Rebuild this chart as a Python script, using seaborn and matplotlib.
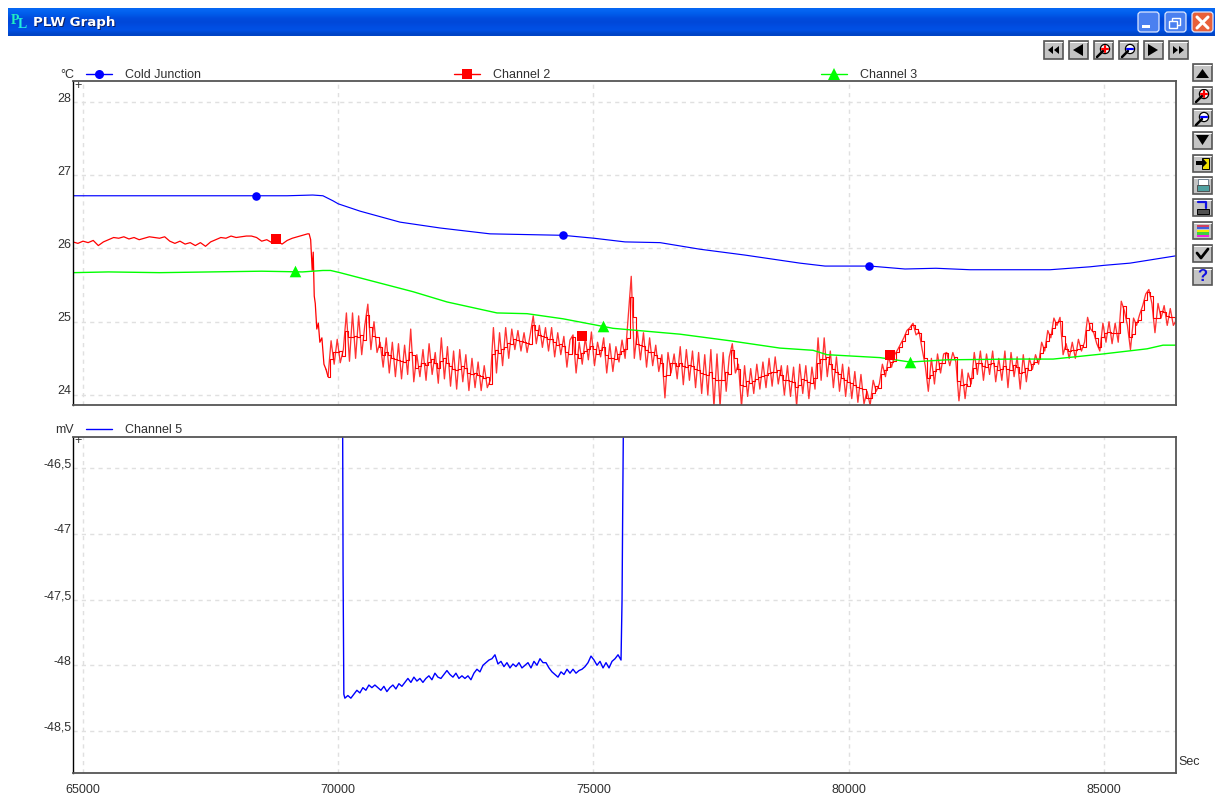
import numpy as np
import pandas as pd
import matplotlib
matplotlib.use("Agg")
import matplotlib.pyplot as plt
from matplotlib.patches import Rectangle, FancyBboxPatch, Polygon, Circle
from matplotlib.transforms import ScaledTranslation
import seaborn as sns

# x axis ticks
x_ticks = [65000, 70000, 75000, 80000, 85000]
temp_ticks = [24, 25, 26, 27, 28]
mv_ticks = [-48.5, -48, -47.5, -47, -46.5]
mv_labels = ["-48,5", "-48", "-47,5", "-47", "-46,5"]

# Cold Junction
cj_t = [64800, 66000, 67500, 69000, 69500, 69700, 69900, 70000, 70427, 71210, 71994, 72973, 74404,
        75011, 75618, 76304, 77087, 77969, 79046, 79536, 80417, 81103, 81710, 82376, 83356, 83944,
        84728, 85002, 85511, 86412]
cj_v = [26.72, 26.72, 26.72, 26.72, 26.73, 26.72, 26.65, 26.61, 26.51, 26.36, 26.28, 26.20, 26.18,
        26.14, 26.09, 26.08, 25.99, 25.91, 25.80, 25.76, 25.76, 25.72, 25.73, 25.71, 25.71, 25.71,
        25.75, 25.77, 25.80, 25.90]
cj_mark_t = [68390, 74404, 80400]
cj_mark_v = [26.71, 26.18, 25.76]

# Channel 2, flat part every 100 s from 64800
ch2_flat = [26.09, 26.07, 26.10, 26.08, 26.11, 26.04, 26.09, 26.12, 26.15, 26.14,
            26.16, 26.13, 26.15, 26.12, 26.14, 26.16, 26.15, 26.14, 26.16, 26.10,
            26.07, 26.10, 26.06, 26.08, 26.04, 26.08, 26.03, 26.09, 26.12, 26.15,
            26.14, 26.17, 26.15, 26.16, 26.17, 26.17, 26.15, 26.10, 26.12, 26.08,
            26.10, 26.06, 26.11, 26.14, 26.16, 26.18, 26.20]
# the drop
ch2_drop_t = [69430, 69460, 69490, 69510, 69530, 69550, 69580, 69610, 69640, 69680, 69720, 69760]
ch2_drop_v = [26.20, 26.12, 25.70, 25.95, 25.35, 25.25, 24.90, 24.98, 24.72, 24.78, 24.42, 24.35]
# noisy part, every 60 s from 69800
ch2_noisy = [24.25, 24.74, 24.42, 24.76, 24.44, 24.62, 25.12, 24.46, 25.12, 24.50,
             25.08, 24.55, 24.95, 25.24, 24.62, 25.00, 24.58, 24.72, 24.38, 24.78,
             24.30, 24.72, 24.25, 24.70, 24.22, 24.68, 24.28, 24.90, 24.18, 24.55,
             24.25, 24.62, 24.20, 24.70, 24.28, 24.58, 24.16, 24.78, 24.22, 24.66,
             24.12, 24.60, 24.08, 24.62, 24.18, 24.55, 24.06, 24.50, 24.10, 24.45,
             24.06, 24.40, 24.10, 24.20, 24.92, 24.30, 24.85, 24.40, 24.92, 24.50,
             24.90, 24.62, 24.88, 24.60, 24.85, 24.58, 24.82, 25.08, 24.70, 24.95,
             24.65, 24.92, 24.60, 24.92, 24.52, 24.85, 24.55, 24.80, 24.38, 24.75,
             24.82, 24.30, 24.72, 24.42, 24.78, 24.48, 24.86, 24.40, 24.72, 24.52,
             24.78, 24.30, 24.70, 24.32, 24.66, 24.45, 24.75, 24.50, 25.05, 25.62,
             24.50, 24.88, 24.48, 24.85, 24.38, 24.78, 24.40, 24.68, 24.32, 24.55,
             23.96, 24.58, 24.30, 24.56, 24.22, 24.66, 24.14, 24.62, 24.20, 24.60,
             24.10, 24.58, 24.02, 24.55, 24.00, 24.62, 23.84, 24.56, 23.84, 24.58,
             24.05, 24.52, 24.70, 24.30, 24.42, 23.84, 24.40, 23.98, 24.36, 24.02,
             24.42, 24.08, 24.45, 24.10, 24.50, 24.12, 24.52, 24.15, 24.40, 24.00,
             24.40, 23.98, 24.38, 23.85, 24.42, 24.02, 24.40, 23.95, 24.38, 24.08,
             24.78, 24.20, 24.78, 24.25, 24.60, 24.10, 24.52, 24.05, 24.42, 23.98,
             24.38, 23.95, 24.32, 23.90, 24.28, 23.88, 24.05, 23.86, 24.20, 24.05,
             24.15, 24.42, 24.25, 24.52, 24.38, 24.55, 24.62, 24.70, 24.78, 24.88,
             24.92, 24.98, 24.82, 24.86, 24.62, 24.40, 24.05, 24.50, 24.15, 24.56,
             24.30, 24.56, 24.58, 24.40, 24.58, 24.45, 23.92, 24.35, 23.95, 24.30,
             24.15, 24.58, 24.28, 24.60, 24.20, 24.56, 24.28, 24.60, 24.18, 24.50,
             24.20, 24.60, 24.10, 24.58, 24.25, 24.52, 24.08, 24.55, 24.18, 24.50,
             24.35, 24.55, 24.42, 24.72, 24.60, 24.88, 24.78, 25.05, 24.95, 25.06,
             24.55, 24.70, 24.50, 24.72, 24.50, 24.76, 24.60, 24.72, 25.06, 24.90,
             24.85, 24.70, 24.60, 24.98, 24.72, 25.00, 24.70, 24.98, 24.72, 25.28,
             25.15, 24.95, 24.62, 25.05, 24.95, 25.10, 25.22, 25.38, 25.44, 25.25,
             24.85, 25.25, 25.05, 25.22, 24.95, 25.18, 24.95, 25.02]
ch2_mark_t = [68780, 74780, 80810]
ch2_mark_v = [26.13, 24.80, 24.55]

# Channel 3
ch3_t = [64800, 65500, 66500, 67500, 68500, 69300, 69700, 69850, 70034, 71465, 72131, 73110, 73698,
         74404, 75383, 76695, 77675, 78654, 79301, 79575, 80613, 81201, 81926, 83219, 84003, 84983,
         85845, 86158, 86412]
ch3_v = [25.67, 25.68, 25.67, 25.68, 25.69, 25.68, 25.70, 25.70, 25.67, 25.41, 25.27, 25.12, 25.11,
         25.04, 24.91, 24.83, 24.74, 24.64, 24.61, 24.55, 24.51, 24.45, 24.48, 24.49, 24.49, 24.56,
         24.63, 24.68, 24.68]
ch3_mark_t = [69150, 75190, 81200]
ch3_mark_v = [25.69, 24.94, 24.45]

# Channel 5, on scale between 70130 and 75540
ch5_on = [-48.25, -48.23, -48.25, -48.22, -48.19, -48.21, -48.17, -48.19, -48.15, -48.17,
          -48.15, -48.17, -48.19, -48.16, -48.20, -48.17, -48.15, -48.18, -48.14, -48.16,
          -48.13, -48.10, -48.13, -48.09, -48.12, -48.10, -48.13, -48.10, -48.08, -48.11,
          -48.06, -48.09, -48.10, -48.07, -48.04, -48.07, -48.09, -48.06, -48.10, -48.08,
          -48.10, -48.08, -48.11, -48.06, -48.03, -48.05, -48.00, -47.98, -47.96, -47.95,
          -47.92, -47.99, -47.97, -48.01, -47.98, -48.02, -47.99, -48.01, -47.98, -48.02,
          -48.00, -47.98, -48.02, -47.97, -48.00, -47.95, -47.98, -47.98, -48.02, -48.05,
          -48.07, -48.09, -48.05, -48.07, -48.03, -48.06, -48.03, -48.06, -48.04, -48.03,
          -48.01, -47.98, -47.93, -47.96, -48.00, -47.97, -48.02, -47.98, -48.02, -47.97,
          -47.95, -47.92, -47.96]
ch5_in_t = [70085, 70095, 70110]
ch5_in_v = [-46.0, -47.3, -48.22]
ch5_out_t = [75560, 75575, 75590]
ch5_out_v = [-47.5, -46.7, -46.0]

ch2_noisy_t = 69800 + 60 * np.arange(len(ch2_noisy))
ch2_t = np.concatenate([64800 + 100 * np.arange(len(ch2_flat)), ch2_drop_t])
ch2_v = np.concatenate([ch2_flat, ch2_drop_v])
# saturated band in the middle of the noise
ch2_core = pd.Series(ch2_noisy).rolling(2, min_periods=1).mean()
ch5_t = np.concatenate([ch5_in_t, np.linspace(70130, 75540, len(ch5_on)), ch5_out_t])
ch5_v = np.concatenate([ch5_in_v, ch5_on, ch5_out_v])

sns.set_theme(style="white")
plt.rcParams['font.family'] = ['Liberation Sans', 'DejaVu Sans']

W, H = 1215, 798
fig = plt.figure(figsize=(W / 100, H / 100), dpi=100, facecolor="white")


def px_axes(left, top, right, bottom):
    return fig.add_axes([left / W, 1 - bottom / H, (right - left) / W, (bottom - top) / H])


def style_axes(ax):
    ax.set_xlim(64804, 86412)
    ax.set_xticks(x_ticks)
    ax.grid(True, linestyle=(0, (3, 3)), color="#e0e0e0", linewidth=1)
    ax.set_axisbelow(True)
    ax.tick_params(length=0, labelsize=9, colors="#303030")
    ax.tick_params(axis="y", pad=1)
    ax.tick_params(axis="x", pad=8)
    ax.set_xlabel("")
    ax.set_ylabel("")
    for side in ["top", "right", "bottom"]:
        ax.spines[side].set_color("#555555")
        ax.spines[side].set_linewidth(1.3)
        ax.spines[side].set_visible(True)
    ax.spines["left"].set_color("black")
    ax.spines["left"].set_linewidth(1)
    ax.spines["left"].set_visible(True)
    # the program writes its y labels a little above the grid line
    for label in ax.get_yticklabels():
        label.set_transform(label.get_transform() + ScaledTranslation(0, 0.05, fig.dpi_scale_trans))


# window frame and buttons live on one full size axes in pixel coords
chrome = fig.add_axes([0, 0, 1, 1], zorder=5)
chrome.set_xlim(0, W)
chrome.set_ylim(H, 0)
chrome.axis("off")
chrome.patch.set_alpha(0)

bar = np.array([[0.02, 0.40, 0.95], [0.0, 0.36, 0.92], [0.0, 0.30, 0.87], [0.0, 0.28, 0.85],
                [0.0, 0.30, 0.88], [0.0, 0.32, 0.90], [0.0, 0.27, 0.78]]).reshape(7, 1, 3)
chrome.imshow(bar, extent=(8, W, 36, 8), aspect="auto", interpolation="bilinear")
chrome.set_xlim(0, W)
chrome.set_ylim(H, 0)

chrome.text(34, 23.5, "PLW Graph", color="#102060", fontsize=9.6, fontweight="bold",
            family="DejaVu Sans", va="center")
chrome.text(33, 22.5, "PLW Graph", color="white", fontsize=9.6, fontweight="bold",
            family="DejaVu Sans", va="center")
chrome.text(11, 20, "P", color="#20f0c0", fontsize=10, fontweight="bold", family="Liberation Serif", va="center")
chrome.text(18, 25, "L", color="#20f0e0", fontsize=10, fontweight="bold", family="Liberation Serif", va="center")

for bx, col in [(1137, "#4a80f0"), (1164, "#4a80f0"), (1191, "#e8603a")]:
    chrome.add_patch(FancyBboxPatch((bx + 1, 12), 21, 20, boxstyle="round,pad=0,rounding_size=3",
                                    fc=col, ec="#dfe8ff", lw=0.9))
chrome.add_patch(Rectangle((1142, 25), 8, 3, fc="white", ec="none"))
chrome.add_patch(Rectangle((1172, 18), 8, 7, fc="none", ec="white", lw=1))
chrome.add_patch(Rectangle((1169, 21), 8, 7, fc="#4a80f0", ec="white", lw=1))
chrome.plot([1197, 1208], [17, 28], color="white", lw=2.2)
chrome.plot([1197, 1208], [28, 17], color="white", lw=2.2)


def tool_button(x0, y0, x1, y1):
    chrome.add_patch(Rectangle((x0, y0), x1 - x0, y1 - y0, fc="#c4c4c4", ec="#555555", lw=1.2))
    chrome.plot([x0 + 1, x1 - 1], [y0 + 1, y0 + 1], color="white", lw=0.7)


def magnifier(cx, cy, col):
    chrome.plot([cx - 7, cx - 1], [cy + 7, cy + 1], color="black", lw=1.8)
    chrome.add_patch(Circle((cx + 1, cy - 1), 4.6, fc="white", ec="black", lw=0.9))
    chrome.plot([cx - 2, cx + 4], [cy - 1, cy - 1], color=col, lw=1.6)
    if col == "red":
        chrome.plot([cx + 1, cx + 1], [cy - 4, cy + 2], color=col, lw=1.6)


def tri(pts, col="black"):
    chrome.add_patch(Polygon(pts, closed=True, fc=col, ec="none"))


# top row
top_x = [1044, 1069, 1094, 1119, 1144, 1169]
for bx in top_x:
    tool_button(bx, 41, bx + 19, 59)
tri([(1048, 50), (1053, 46), (1053, 54)])
tri([(1054, 50), (1059, 46), (1059, 54)])
tri([(1073, 50), (1083, 44), (1083, 56)])
magnifier(1104, 50, "red")
magnifier(1129, 50, "blue")
tri([(1158, 50), (1148, 44), (1148, 56)])
tri([(1178, 50), (1173, 46), (1173, 54)])
tri([(1184, 50), (1179, 46), (1179, 54)])

# right column
side_y = [64, 87, 109, 132, 155, 177, 199, 222, 245, 268]
for by in side_y:
    tool_button(1193, by, 1212, by + 17)
tri([(1196, 78), (1209, 78), (1202.5, 69)])
magnifier(1203, 95, "red")
magnifier(1203, 118, "blue")
tri([(1196, 135), (1209, 135), (1202.5, 145)])
chrome.add_patch(Rectangle((1202, 158), 7, 11, fc="#f0e000", ec="black", lw=0.7))
tri([(1196, 161), (1203, 161), (1203, 158.5), (1207, 163), (1203, 167), (1203, 165), (1196, 165)])
chrome.add_patch(Rectangle((1198, 179), 10, 6, fc="white", ec="#708090", lw=0.7))
chrome.add_patch(Rectangle((1197, 185), 12, 6, fc="#50a0a0", ec="#505050", lw=0.7))
chrome.add_patch(Rectangle((1197, 209), 12, 5, fc="#505050", ec="black", lw=0.7))
chrome.plot([1198, 1206, 1206], [202, 202, 208], color="#1010e0", lw=1.6)
for i, col in enumerate(["#d04060", "#4060e0", "#f0f000", "#40d040", "#f020e0"]):
    chrome.add_patch(Rectangle((1197, 224.5 + i * 2.6), 12, 2.3, fc=col, ec="none"))
chrome.plot([1197, 1201, 1208], [253, 258, 249], color="black", lw=2)
chrome.text(1202.5, 276.5, "?", color="#1010e0", fontsize=12, fontweight="bold", ha="center", va="center")

# temperature panel
ax1 = px_axes(73, 81, 1176, 405)
sns.lineplot(x=cj_t, y=cj_v, color="#0000ff", lw=0.85, estimator=None, ax=ax1)
sns.lineplot(x=ch2_t, y=ch2_v, color="#ff0000", lw=0.9, estimator=None, sort=False, ax=ax1)
sns.lineplot(x=[ch2_drop_t[-1], ch2_noisy_t[0]], y=[ch2_drop_v[-1], ch2_noisy[0]], color="#ff0000",
             lw=0.9, estimator=None, ax=ax1)
sns.lineplot(x=ch2_noisy_t, y=ch2_noisy, color="#ff0000", lw=0.95, alpha=0.8, estimator=None, ax=ax1)
sns.lineplot(x=ch2_noisy_t, y=ch2_core, color="#ff0000", lw=0.8, drawstyle="steps-mid", estimator=None, ax=ax1)
sns.lineplot(x=ch3_t, y=ch3_v, color="#00ff00", lw=1.0, estimator=None, ax=ax1)
sns.scatterplot(x=cj_mark_t, y=cj_mark_v, color="#0000ff", marker="o", s=38, linewidth=0, ax=ax1, zorder=4)
sns.scatterplot(x=ch2_mark_t, y=ch2_mark_v, color="#ff0000", marker="s", s=42, linewidth=0, ax=ax1, zorder=4)
sns.scatterplot(x=ch3_mark_t, y=ch3_mark_v, color="#00ff00", marker="^", s=70, linewidth=0, ax=ax1, zorder=4)
ax1.set_ylim(23.863, 28.287)
ax1.set_yticks(temp_ticks)
style_axes(ax1)
ax1.tick_params(axis="x", labelbottom=False)

# mV panel
ax2 = px_axes(73, 437, 1176, 773)
sns.lineplot(x=ch5_t, y=ch5_v, color="#0000ff", lw=1.0, estimator=None, sort=False, ax=ax2)
ax2.set_ylim(-48.819, -46.264)
ax2.set_yticks(mv_ticks)
ax2.set_yticklabels(mv_labels)
style_axes(ax2)

# legends and small labels, placed where the program draws them
txt = dict(fontsize=9, color="#303030", va="center")
chrome.text(74, 75, "°C", ha="right", **txt)
chrome.text(74, 430, "mV", ha="right", **txt)
chrome.text(78, 86, "+", ha="center", **txt)
chrome.text(78, 441, "+", ha="center", **txt)
chrome.text(1178, 762, "Sec", ha="left", **txt)

legend_rows = [(86, 74, "Cold Junction", "#0000ff", "o", 6.5),
               (454, 74, "Channel 2", "#ff0000", "s", 6.5),
               (821, 74, "Channel 3", "#00ff00", "^", 8.5),
               (86, 429, "Channel 5", "#0000ff", None, 0)]
for lx, ly, name, col, mk, ms in legend_rows:
    chrome.plot([lx, lx + 26], [ly, ly], color=col, lw=1)
    if mk:
        chrome.plot([lx + 13], [ly], marker=mk, ms=ms, color=col, mew=0)
    chrome.text(lx + 39, ly + 1, name, **txt)

chrome.set_xlim(0, W)
chrome.set_ylim(H, 0)

fig.savefig("out.png", dpi=100, facecolor="white")
